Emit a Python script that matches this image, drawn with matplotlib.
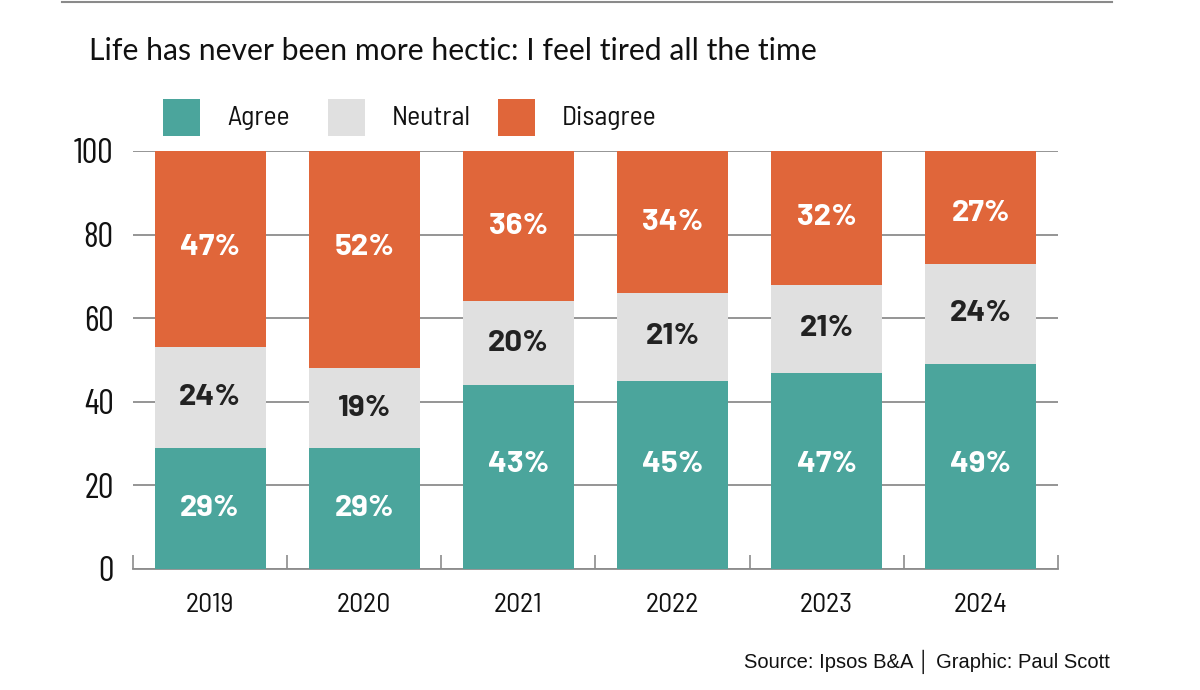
import matplotlib
matplotlib.use("Agg")
from matplotlib import pyplot as plt
from matplotlib.patches import Rectangle
from matplotlib.lines import Line2D
import numpy as np

years = ["2019", "2020", "2021", "2022", "2023", "2024"]
# bar heights
agree = [29, 29, 44, 45, 47, 49]
neutral = [24, 19, 20, 21, 21, 24]
disagree = [47, 52, 36, 34, 32, 27]
# percentages printed on the bars
agree_txt = [29, 29, 43, 45, 47, 49]
neutral_txt = [24, 19, 20, 21, 21, 24]
disagree_txt = [47, 52, 36, 34, 32, 27]
series = ["Agree", "Neutral", "Disagree"]
colors = ["#4ba59c", "#e0e0e0", "#e0663a"]
yticks = [0, 20, 40, 60, 80, 100]

title = "Life has never been more hectic: I feel tired all the time"
source = "Source: Ipsos B&A \u2502 Graphic: Paul Scott"

grid_col = "#8c8c8c"
ink = "#111111"

fig = plt.figure(figsize=(12, 6.9), dpi=100)
ax = fig.add_axes([0.1108, 0.1754, 0.7708, 0.6058])

x = np.arange(len(years))
agree = np.array(agree)
neutral = np.array(neutral)
disagree = np.array(disagree)
w = 0.72
ax.bar(x, agree, w, color=colors[0], zorder=3)
ax.bar(x, neutral, w, bottom=agree, color=colors[1], zorder=3)
ax.bar(x, disagree, w, bottom=agree + neutral, color=colors[2], zorder=3)

lab = dict(ha="center", va="center", fontsize=22.5, fontweight="bold", family="Barlow", zorder=4)
for i in range(len(years)):
    # tall segments get their label nearer the middle of the chart
    ya = agree[i] / 2 if agree[i] < 40 else 25
    yn = agree[i] + neutral[i] / 2
    yd = min(max(agree[i] + neutral[i] + disagree[i] / 2, 77), 85)
    ax.text(x[i], ya, f"{agree_txt[i]}%", color="white", **lab)
    ax.text(x[i], yn, f"{neutral_txt[i]}%", color="#222222", **lab)
    ax.text(x[i], yd, f"{disagree_txt[i]}%", color="white", **lab)

ax.set_xlim(-0.5, len(years) - 0.5)
ax.set_ylim(0, 100)
ax.set_yticks(yticks)
ax.set_yticklabels([str(t) for t in yticks], family="Barlow Condensed", fontsize=25, color=ink)
ax.set_xticks(x)
ax.set_xticklabels(years, family="Barlow Semi Condensed", fontsize=20, color=ink)
ax.set_xticks(np.arange(len(years) + 1) - 0.5, minor=True)
ax.tick_params(axis="x", which="major", length=0, pad=17)
ax.tick_params(axis="x", which="minor", direction="in", length=10, width=1.2, color=grid_col)
ax.tick_params(axis="y", length=0, pad=14)
ax.yaxis.grid(True, color=grid_col, linewidth=1.3, zorder=0)
ax.set_axisbelow(True)
for s in ["top", "right", "left"]:
    ax.spines[s].set_visible(False)
ax.spines["bottom"].set_color(grid_col)
ax.spines["bottom"].set_linewidth(1.3)

# title and top rule
fig.add_artist(Line2D([62 / 1200, 1112 / 1200], [1 - 2 / 690, 1 - 2 / 690], color="#8a8a8a", linewidth=1.5))
fig.text(89 / 1200, 1 - 51 / 690, title, ha="left", va="center", fontsize=21.7,
         family="Lato", color=ink)

# legend
lx = [163, 328, 498]
for i, name in enumerate(series):
    fig.add_artist(Rectangle((lx[i] / 1200, 1 - 136 / 690), 37 / 1200, 37 / 690,
                             facecolor=colors[i], edgecolor="none"))
    fig.text((lx[i] + 64) / 1200, 1 - 118 / 690, name, ha="left", va="center",
             fontsize=20, family="Barlow Semi Condensed", color=ink)

fig.text(1110 / 1200, 1 - 662 / 690, source, ha="right", va="center", fontsize=14.5,
         family=["Liberation Sans", "DejaVu Sans"], color=ink)

fig.savefig("out.png", dpi=100)
